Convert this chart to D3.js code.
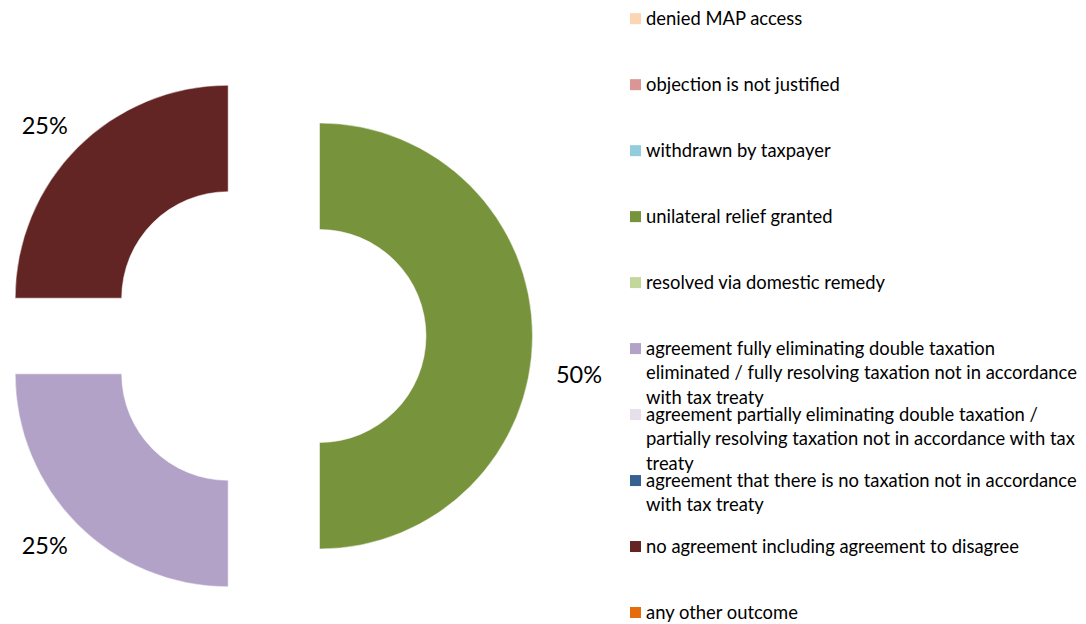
<html>
<head>
<meta charset="utf-8">
<script src="https://d3js.org/d3.v7.min.js"></script>
<style>
  body { margin: 0; background: #fff; }
  text { font-family: Lato, "Open Sans", sans-serif; fill: #000; }
</style>
</head>
<body>
<svg id="chart" width="1086" height="624"></svg>
<script>

// Outcome categories (legend order = pie order)
var outcomes = ["denied MAP access",
  "objection is not justified",
  "withdrawn by taxpayer",
  "unilateral relief granted",
  "resolved via domestic remedy",
  "agreement fully eliminating double taxation eliminated / fully resolving taxation not in accordance with tax treaty",
  "agreement partially eliminating double taxation / partially resolving taxation not in accordance with tax treaty",
  "agreement that there is no taxation not in accordance with tax treaty",
  "no agreement including agreement to disagree",
  "any other outcome"];

// legend text as it wraps in the picture
var legendLines = [
  ["denied MAP access"],
  ["objection is not justified"],
  ["withdrawn by taxpayer"],
  ["unilateral relief granted"],
  ["resolved via domestic remedy"],
  ["agreement fully eliminating double taxation", "eliminated / fully resolving taxation not in accordance", "with tax treaty"],
  ["agreement partially eliminating double taxation /", "partially resolving taxation not in accordance with tax", "treaty"],
  ["agreement that there is no taxation not in accordance", "with tax treaty"],
  ["no agreement including agreement to disagree"],
  ["any other outcome"]];

// share of cases (%)
var shares = [0, 0, 0, 50, 0, 25, 0, 0, 25, 0];

var colors = ["#FCD5B5", "#D99694", "#93CDDD", "#77933C", "#C3D69B",
  "#B3A2C7", "#E6E0EC", "#376092", "#632523", "#E46C0A"];

var svg = d3.select("#chart");

// pie geometry
var cx = 266, cy = 336;
var outerR = 213, innerR = 106.5;
var explode = 53.5;
var labelRx = 313, labelRy = 297;

var data = outcomes.map(function(o, i) {
  return {name: o, value: shares[i], color: colors[i]};
});

var pie = d3.pie()
  .sort(null)
  .value(function(d) { return d.value; });

var arc = d3.arc()
  .innerRadius(innerR)
  .outerRadius(outerR);

var slices = pie(data).filter(function(d) { return d.data.value > 0; });

function mid(d) { return (d.startAngle + d.endAngle) / 2; }

var g = svg.append("g")
  .attr("transform", "translate(" + cx + "," + cy + ")");

g.selectAll("path")
  .data(slices)
  .enter().append("path")
    .attr("d", arc)
    .attr("transform", function(d) {
      var a = mid(d);
      return "translate(" + (Math.sin(a) * explode) + "," + (-Math.cos(a) * explode) + ")";
    })
    .style("fill", function(d) { return d.data.color; })
    .style("stroke", "#fff")
    .style("stroke-width", 0.5);

// data labels - the 50% one sits a bit lower in the original
var labelDy = {"unilateral relief granted": 39};

g.selectAll("text.lbl")
  .data(slices)
  .enter().append("text")
    .attr("class", "lbl")
    .attr("x", function(d) { return Math.sin(mid(d)) * labelRx; })
    .attr("y", function(d) { return -Math.cos(mid(d)) * labelRy + (labelDy[d.data.name] || 0); })
    .attr("dy", "0.35em")
    .attr("text-anchor", "middle")
    .style("font-size", "23.5px")
    .text(function(d) { return d3.format(".0%")(d.data.value / 100); });

// legend
var ly = d3.scalePoint()
  .domain(outcomes)
  .range([18.7, 612.5]);

var legend = svg.append("g");
var items = legend.selectAll("g")
  .data(data)
  .enter().append("g")
    .attr("transform", function(d) { return "translate(630," + ly(d.name) + ")"; });

items.append("rect")
  .attr("x", 0)
  .attr("y", -5.5)
  .attr("width", 11)
  .attr("height", 11)
  .style("fill", function(d) { return d.color; });

items.each(function(d, i) {
  var t = d3.select(this).append("text")
    .attr("x", 16)
    .attr("y", 6)
    .style("font-size", "18.4px");
  legendLines[i].forEach(function(line, k) {
    t.append("tspan")
      .attr("x", 16)
      .attr("y", 6 + k * 24.5)
      .text(line);
  });
});

</script>
</body>
</html>
